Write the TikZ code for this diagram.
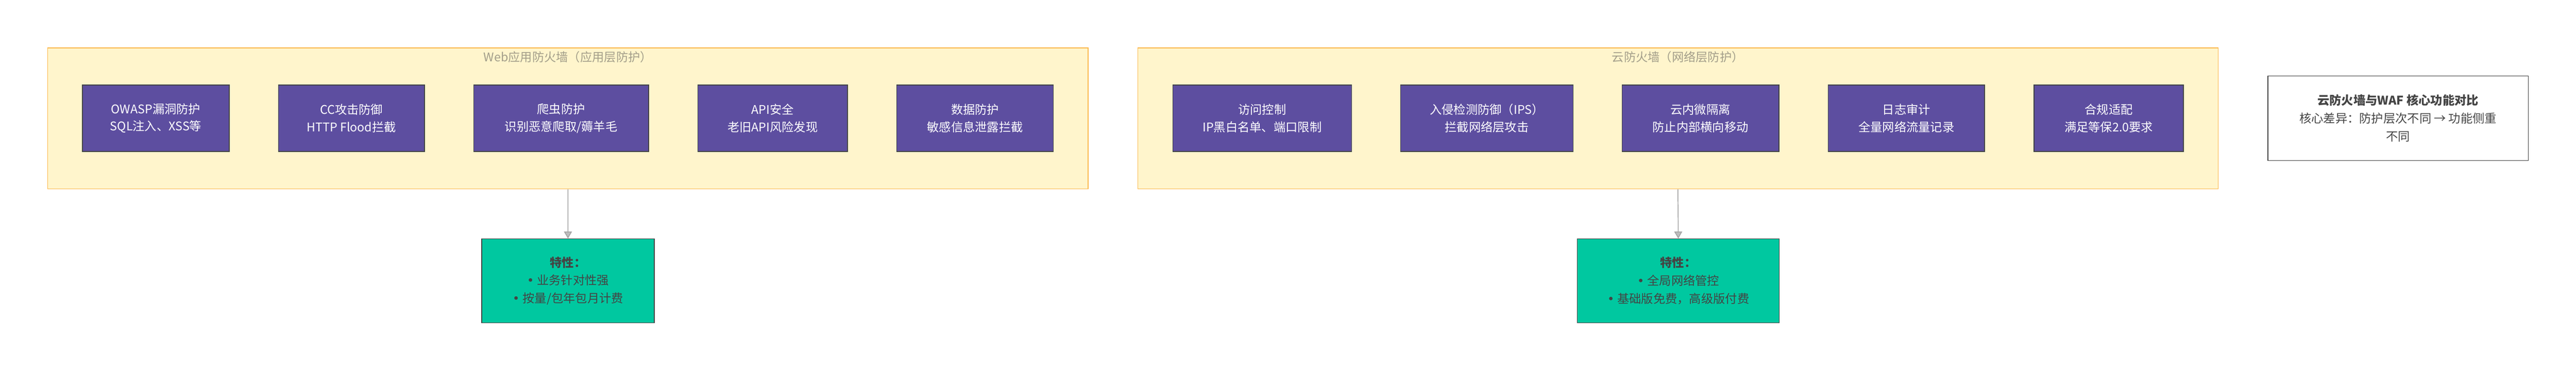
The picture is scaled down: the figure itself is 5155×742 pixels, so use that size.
\documentclass[tikz,border=0pt]{standalone}
\usepackage{fontspec}
\setmainfont{Noto Sans CJK SC}
\newfontfamily\dotfont{DejaVu Sans}
\usepackage{xcolor}
\usepackage{tikz}
\usetikzlibrary{arrows.meta, positioning}
\definecolor{zonefill}{HTML}{FFF5CC}
\definecolor{zoneline}{HTML}{FBB84D}
\definecolor{zonetext}{HTML}{A39E8A}
\definecolor{guardfill}{HTML}{5D4EA0}
\definecolor{traitfill}{HTML}{00C8A0}
\definecolor{edgegray}{HTML}{444444}
\definecolor{linkgray}{HTML}{A0A0A0}
\newcommand{\dotitem}{{\dotfont •}\hspace{6pt}}
\tikzset{
    zone/.style={rectangle, draw=zoneline, fill=zonefill, line width=1.5pt, minimum width=#1, minimum height=282pt},
    zonelabel/.style={text=zonetext, font=\fontsize{24}{30}\selectfont},
    guard/.style={rectangle, draw=edgegray, fill=guardfill, line width=1.5pt, minimum width=#1, minimum height=133pt, text=white, align=center, font=\fontsize{24}{35}\selectfont},
    trait/.style={rectangle, draw=edgegray, fill=traitfill, line width=1.5pt, minimum width=#1, minimum height=168pt, text=edgegray, align=center, font=\fontsize{24}{36}\selectfont},
    memo/.style={rectangle, draw=edgegray, fill=white, line width=1.5pt, minimum width=521pt, minimum height=169pt, text=edgegray, align=center, font=\fontsize{24}{36}\selectfont},
    link/.style={draw=linkgray, line width=1.5pt, -{Triangle[width=16pt, length=14pt, fill=linkgray!70]}}
}

\begin{document}
\begin{tikzpicture}[x=1pt, y=-1pt]
            % Canvas
            \path[fill=white, use as bounding box] (0,0) rectangle (5155,742);

            % Web application firewall
            \node[zone=2082pt] (webzone) at (1136.5, 237) {};
            \node[zonelabel] (webtitle) at (1136.5, 114) {Web应用防火墙（应用层防护）};
            \node[guard=294pt] (owasp) at (311.9, 236.5) {OWASP漏洞防护\\SQL注入、XSS等};
            \node[guard=292.6pt] (cc) at (703.3, 236.5) {CC攻击防御\\HTTP Flood拦截};
            \node[guard=350pt] (crawler) at (1122.8, 236.5) {爬虫防护\\识别恶意爬取/薅羊毛};
            \node[guard=300pt] (api) at (1546.2, 236.5) {API安全\\老旧API风险发现};
            \node[guard=313.5pt] (data) at (1951.3, 236.5) {数据防护\\敏感信息泄露拦截};

            % Cloud firewall
            \node[zone=2162pt] (cloudzone) at (3357.7, 237) {};
            \node[zonelabel] (cloudtitle) at (3357.7, 114) {云防火墙（网络层防护）};
            \node[guard=357.8pt] (acl) at (2525.7, 236.5) {访问控制\\IP黑白名单、端口限制};
            \node[guard=345.2pt] (ips) at (2975.4, 236.5) {入侵检测防御（IPS）\\拦截网络层攻击};
            \node[guard=313.8pt] (microseg) at (3402.9, 236.5) {云内微隔离\\防止内部横向移动};
            \node[guard=312.8pt] (audit) at (3815.1, 236.5) {日志审计\\全量网络流量记录};
            \node[guard=299pt] (comply) at (4219.9, 236.5) {合规适配\\满足等保2.0要求};

            % Traits
            \node[trait=345.3pt] (webtraits) at (1136.6, 562) {\textbf{特性：}\\\dotitem 业务针对性强\\\dotitem 按量/包年包月计费};
            \node[trait=404.5pt] (cloudtraits) at (3358.5, 562) {\textbf{特性：}\\\dotitem 全局网络管控\\\dotitem 基础版免费，高级版付费};
            \draw[link] (webzone.south) -- (webtraits.north);
            \draw[link] (cloudzone.south) -- (cloudtraits.north);

            % Summary
            \node[memo] (summary) at (4798.9, 236.7) {\textbf{云防火墙与WAF 核心功能对比}\\核心差异：防护层次不同 → 功能侧重\\不同};

        \end{tikzpicture}
\end{document}
